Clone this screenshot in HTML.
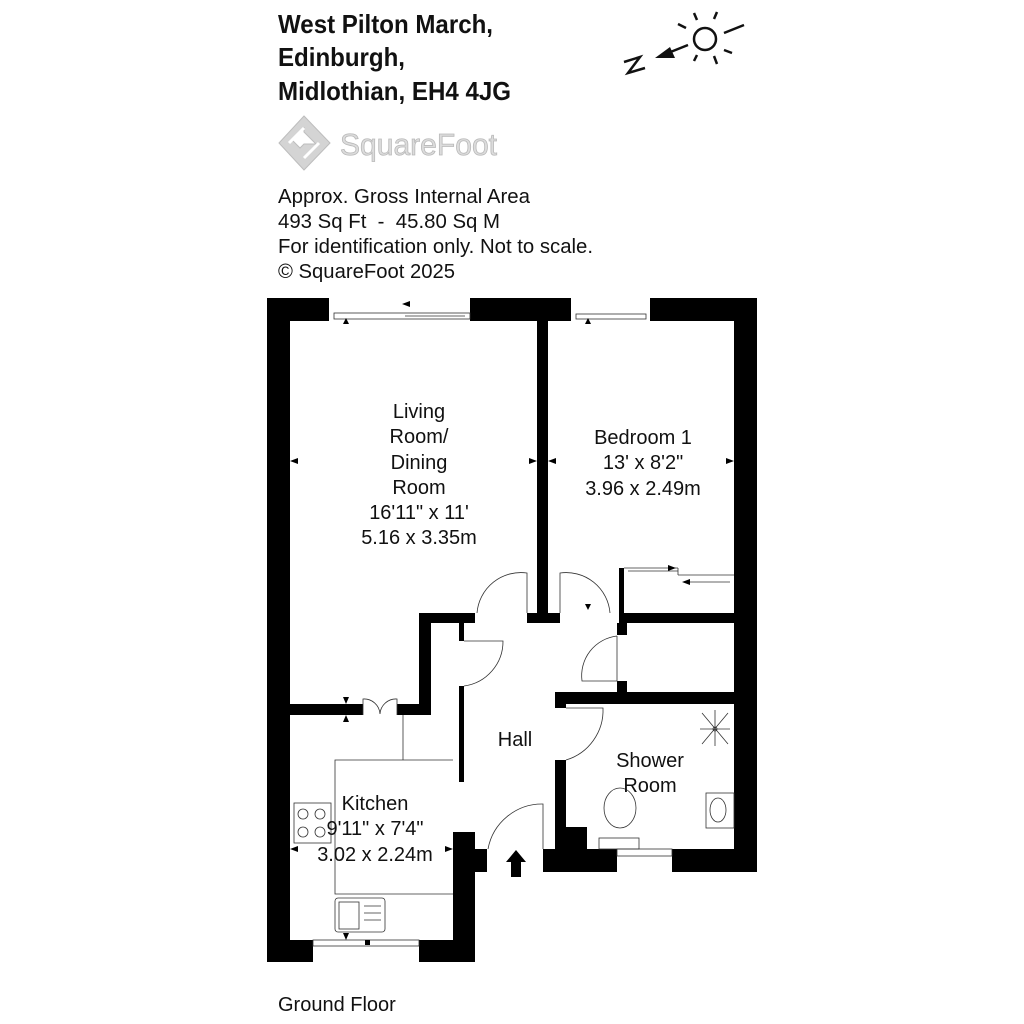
<!DOCTYPE html>
<html><head><meta charset="utf-8"><style>
html,body{margin:0;padding:0;background:#fff;}
svg{display:block;}
text{font-family:"Liberation Sans Narrow","Liberation Sans",sans-serif;}
</style></head><body>
<svg width="1024" height="1024" viewBox="0 0 1024 1024" xmlns="http://www.w3.org/2000/svg">
<rect width="1024" height="1024" fill="#fff"/>
<!-- header -->
<g font-weight="bold" font-size="26" fill="#111">
<text x="278" y="33" textLength="215" lengthAdjust="spacingAndGlyphs">West Pilton March,</text>
<text x="278" y="66" textLength="127" lengthAdjust="spacingAndGlyphs">Edinburgh,</text>
<text x="278" y="100" textLength="233" lengthAdjust="spacingAndGlyphs">Midlothian, EH4 4JG</text>
</g>
<!-- logo -->
<g fill="#d4d4d4" stroke="#bdbdbd" stroke-width="1">
<path d="M304 116 L330 143 L304 170 L279 143 Z M304 128 L292 140 L300 148 L304 144 L316 144 L304 132 Z" fill-rule="evenodd"/>
</g>
<path d="M289 143 L304 128 M304 158 L319 143" stroke="#fff" stroke-width="3"/>
<text x="340" y="155" font-size="31" fill="#dcdcdc" stroke="#b8b8b8" stroke-width="0.8" font-family="Liberation Sans, sans-serif" textLength="157" lengthAdjust="spacingAndGlyphs">SquareFoot</text>
<g font-size="20" fill="#111">
<text x="278" y="203" textLength="252" lengthAdjust="spacingAndGlyphs">Approx. Gross Internal Area</text>
<text x="278" y="228" textLength="222" lengthAdjust="spacingAndGlyphs" xml:space="preserve">493 Sq Ft  -  45.80 Sq M</text>
<text x="278" y="253" textLength="315" lengthAdjust="spacingAndGlyphs">For identification only. Not to scale.</text>
<text x="278" y="278" textLength="177" lengthAdjust="spacingAndGlyphs">© SquareFoot 2025</text>
</g>
<!-- compass -->
<g stroke="#111" stroke-width="2.5" fill="none">
<circle cx="705" cy="39" r="11"/>
<line x1="694" y1="13" x2="697" y2="20"/><line x1="717" y1="12" x2="714" y2="19"/>
<line x1="678" y1="24" x2="686" y2="28"/><line x1="724" y1="33" x2="744" y2="25"/>
<line x1="724" y1="50" x2="732" y2="53"/><line x1="694" y1="61" x2="697" y2="55"/>
<line x1="714" y1="56" x2="717" y2="64"/>
<line x1="688" y1="45" x2="668" y2="53"/>
<path d="M624 62 L640 57 L628 73 L645 68"/>
</g>
<polygon points="655,58 670,47 675,58" fill="#111"/>
<!-- walls -->
<g fill="#000">
<!-- outer left -->
<rect x="267" y="298" width="23" height="664"/>
<!-- top -->
<rect x="267" y="298" width="62" height="23"/>
<rect x="470" y="298" width="101" height="23"/>
<rect x="650" y="298" width="107" height="23"/>
<!-- right -->
<rect x="734" y="298" width="23" height="574"/>
<!-- living/bed partition -->
<rect x="537" y="321" width="11" height="302"/>
<rect x="527" y="613" width="33" height="10"/>
<!-- left hall -->
<rect x="419" y="613" width="56" height="10"/>
<rect x="419" y="613" width="12" height="102"/>
<rect x="459" y="623" width="5" height="18"/>
<rect x="459" y="686" width="5" height="96"/>
<!-- living/kitchen -->
<rect x="290" y="704" width="73" height="11"/>
<rect x="397" y="704" width="34" height="11"/>
<!-- kitchen right -->
<rect x="453" y="832" width="22" height="130"/>
<rect x="453" y="849" width="34" height="23"/>
<!-- kitchen bottom -->
<rect x="267" y="940" width="46" height="22"/>
<rect x="419" y="940" width="56" height="22"/>
<!-- right block -->
<rect x="619" y="613" width="115" height="10"/>
<rect x="619" y="568" width="5" height="55"/>
<rect x="617" y="623" width="10" height="12"/>
<rect x="617" y="681" width="10" height="12"/>
<rect x="555" y="692" width="179" height="12"/>
<rect x="555" y="692" width="11" height="16"/>
<rect x="555" y="760" width="11" height="112"/>
<rect x="565" y="827" width="22" height="22"/>
<rect x="543" y="849" width="74" height="23"/>
<rect x="672" y="849" width="85" height="23"/>
</g>
<!-- thin lines -->
<g stroke="#333" stroke-width="0.8" fill="none">
<!-- living windows -->
<rect x="334" y="313" width="136" height="6"/>
<line x1="405" y1="316" x2="465" y2="316"/>
<rect x="576" y="314" width="70" height="5"/>
<rect x="617" y="849" width="55" height="7"/>
<rect x="313" y="940" width="106" height="6"/>
<!-- wardrobe -->
<line x1="624" y1="568" x2="678" y2="568"/><line x1="678" y1="568" x2="678" y2="575"/><line x1="678" y1="575" x2="734" y2="575"/>
<line x1="628" y1="571" x2="678" y2="571"/><line x1="685" y1="582" x2="730" y2="582"/>
<!-- doors -->
<path d="M527 613 L527 573 A44 44 0 0 0 477 613"/>
<path d="M560 613 L560 573 A44 44 0 0 1 610 613"/>
<path d="M464 641 L503 641 A45 45 0 0 1 464 686"/>
<path d="M617 636 L617 681 L582 681 A40 40 0 0 1 617 636"/>
<path d="M566 708 L603 708 A52 52 0 0 1 566 760"/>
<path d="M543 849 L543 804 A55 55 0 0 0 488 849"/>
<path d="M363 715 L363 699 A16 16 0 0 1 380 714 M397 715 L397 699 A16 16 0 0 0 380 714"/>
<!-- kitchen counter -->
<line x1="403" y1="715" x2="403" y2="760"/>
<path d="M453 760 L335 760 L335 894 L453 894"/>
<rect x="294" y="803" width="37" height="40"/>
<circle cx="303" cy="814" r="5"/><circle cx="320" cy="814" r="5"/><circle cx="303" cy="832" r="5"/><circle cx="320" cy="832" r="5"/>
<rect x="335" y="898" width="50" height="34" rx="3"/>
<rect x="339" y="902" width="20" height="27"/>
<line x1="364" y1="906" x2="381" y2="906"/><line x1="364" y1="913" x2="381" y2="913"/><line x1="364" y1="920" x2="381" y2="920"/>
<!-- shower room -->
<path d="M702 713 L728 744 M728 713 L702 744 M715 710 L715 746 M700 729 L730 729"/>
<circle cx="715" cy="729" r="2"/>
<ellipse cx="620" cy="808" rx="16" ry="20"/>
<rect x="599" y="838" width="40" height="11"/>
<rect x="706" y="793" width="28" height="35"/>
<ellipse cx="718" cy="810" rx="8" ry="12"/>
</g>
<!-- arrows small -->
<g fill="#000">
<polygon points="346,318 343,324 349,324"/>
<polygon points="402,304 410,301 410,307"/>
<polygon points="588,318 585,324 591,324"/>
<polygon points="668,565 676,568 668,571"/>
<polygon points="682,582 690,579 690,585"/>
<polygon points="588,610 585,604 591,604"/>
<polygon points="290,461 298,458 298,464"/><polygon points="537,461 529,458 529,464"/>
<polygon points="548,461 556,458 556,464"/><polygon points="734,461 726,458 726,464"/>
<polygon points="346,704 343,697 349,697"/><polygon points="346,715 343,722 349,722"/>
<polygon points="290,849 298,846 298,852"/><polygon points="453,849 445,846 445,852"/>
<polygon points="346,940 343,933 349,933"/>
<rect x="365" y="940" width="5" height="5"/>
<polygon points="516,850 506,862 511,862 511,877 521,877 521,862 526,862"/>
</g>
<!-- room labels -->
<g font-size="20" fill="#111" text-anchor="middle">
<text x="419" y="418">Living</text>
<text x="419" y="443">Room/</text>
<text x="419" y="469">Dining</text>
<text x="419" y="494">Room</text>
<text x="419" y="519">16'11" x 11'</text>
<text x="419" y="544">5.16 x 3.35m</text>
<text x="643" y="444">Bedroom 1</text>
<text x="643" y="469">13' x 8'2"</text>
<text x="643" y="495">3.96 x 2.49m</text>
<text x="515" y="746">Hall</text>
<text x="650" y="767">Shower</text>
<text x="650" y="792">Room</text>
<text x="375" y="810">Kitchen</text>
<text x="375" y="835">9'11" x 7'4"</text>
<text x="375" y="861">3.02 x 2.24m</text>
</g>
<text x="278" y="1011" font-size="20" fill="#111">Ground Floor</text>
</svg>
</body></html>
